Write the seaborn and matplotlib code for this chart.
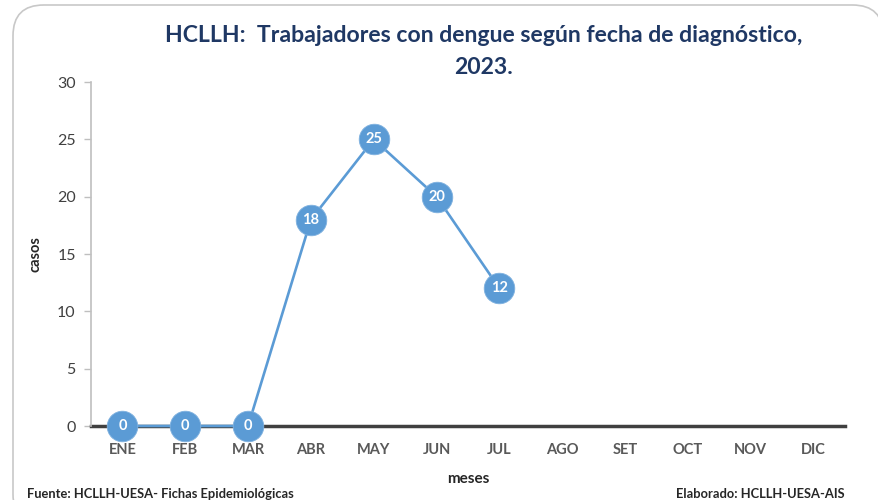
import numpy as np
import pandas as pd
import matplotlib
matplotlib.use("Agg")
import matplotlib.pyplot as plt
import seaborn as sns
from matplotlib.patches import FancyBboxPatch

meses = ["ENE", "FEB", "MAR", "ABR", "MAY", "JUN", "JUL", "AGO", "SET", "OCT", "NOV", "DIC"]
casos = [0, 0, 0, 18, 25, 20, 12]
yticks = [0, 5, 10, 15, 20, 25, 30]

sns.set_style("white")
plt.rcParams['font.family'] = ['Lato', 'DejaVu Sans']

df = pd.DataFrame({"mes": np.arange(len(casos)), "casos": casos})

fig = plt.figure(figsize=(8.79, 5), dpi=100)
ax = fig.add_axes([91/879, 1-426/500, (845-91)/879, (426-82)/500])

# marco redondeado de fondo
frame = FancyBboxPatch((13/879, -0.05), 0.99, 1.04, boxstyle="round,pad=0,rounding_size=0.035",
                       transform=fig.transFigure, facecolor="white", edgecolor="#c8c8c8",
                       linewidth=1.2, zorder=-10, mutation_aspect=879/500)
fig.patches.append(frame)

azul = "#5B9BD5"
sns.lineplot(data=df, x="mes", y="casos", ax=ax, color=azul, linewidth=1.9,
             marker="o", markersize=22, markeredgecolor="#7fb1df", markeredgewidth=0.6)

for x, y in zip(df["mes"], df["casos"]):
    ax.text(x, y, str(y), ha="center", va="center", color="white",
            fontsize=10.5, fontweight="bold", zorder=5)

ax.set_xlim(-0.5, len(meses) - 0.5)
ax.set_ylim(0, 30)
ax.set_yticks(yticks)
ax.set_xticks(range(len(meses)))
ax.set_xticklabels(meses, fontsize=10.5, fontweight="bold", color="#595959")
ax.tick_params(axis="y", labelsize=11.5, labelcolor="#404040", length=5, width=1,
               color="#bfbfbf", direction="out", left=True, pad=6)
ax.tick_params(axis="x", length=0, pad=12)

for s in ["top", "right"]:
    ax.spines[s].set_visible(False)
ax.spines["left"].set_color("#bfbfbf")
ax.spines["left"].set_linewidth(1.2)
ax.spines["bottom"].set_color("#404040")
ax.spines["bottom"].set_linewidth(2.5)
ax.spines["bottom"].set_zorder(1)
for line in ax.lines:
    line.set_clip_on(False)
    line.set_zorder(4)

ax.set_xlabel("meses", fontsize=11, fontweight="bold")
ax.xaxis.set_label_coords(0.5, -(472-426)/344)
ax.set_ylabel("casos", fontsize=10.5, fontweight="bold")
ax.yaxis.set_label_coords(-(91-43)/754, 0.5)

fig.text(484/879, 1-36/500, "HCLLH:  Trabajadores con dengue según fecha de diagnóstico,",
         ha="center", va="center", fontsize=16.6, fontweight="bold", color="#1F3864")
fig.text(484/879, 1-67/500, "2023.", ha="center", va="center",
         fontsize=16.6, fontweight="bold", color="#1F3864")

fig.text(27/879, 1-494/500, "Fuente: HCLLH-UESA- Fichas Epidemiológicas",
         ha="left", va="center", fontsize=9.3, fontweight="bold")
fig.text(845/879, 1-494/500, "Elaborado: HCLLH-UESA-AIS",
         ha="right", va="center", fontsize=9.3, fontweight="bold")

fig.savefig("out.png", dpi=100)
